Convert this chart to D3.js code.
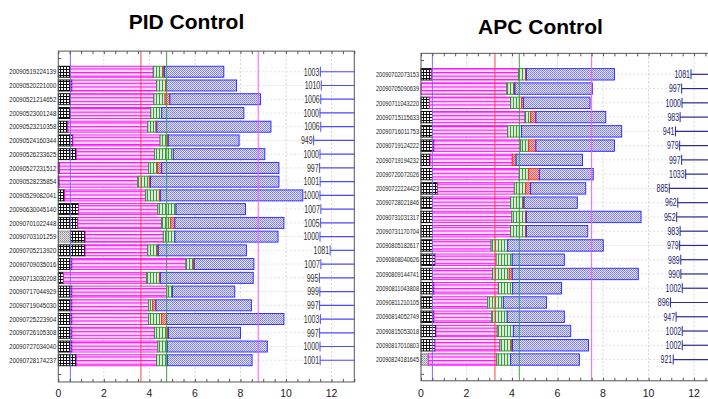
<!DOCTYPE html>
<html>
<head>
<meta charset="utf-8">
<script src="https://cdn.jsdelivr.net/npm/d3@7"></script>
<style>
  body { margin: 0; background: #fff }
  svg { display: block; font-family: "Liberation Sans", Arial, sans-serif }
</style>
</head>
<body>
<svg id="chart" width="708" height="399"></svg>
<script>
// PID panel: each array holds where that segment ends on the x axis
const pidLabels = ['20090519224139', '20090520221000', '20090521214652', '20090523001248', '20090523210358', '20090524160344', '20090526233625', '20090527231512', '20090528235854', '20090529082041', '20090630045140', '20090701022448', '20090703101259', '20090705213920', '20090709035016', '20090713030208', '20090717044929', '20090719045030', '20090725223904', '20090726105308', '20090727034040', '20090728174237']
const pidGray = [0, 0, 0, 0, 0, 0, 0, 0, 0, 0, 0, 0, 0.54, 0, 0, 0, 0, 0, 0, 0, 0, 0]
const pidBlack = [0.54, 0.6, 0.54, 0.54, 0.42, 0.64, 0.79, 0.06, 0.04, 0.28, 0.89, 0.86, 1.18, 1.18, 0.6, 0.23, 0.6, 0.6, 0.6, 0.6, 0.6, 0.79]
const pidMagenta = [4.17, 4.32, 4.2, 4.06, 3.93, 4.47, 4.22, 3.96, 3.49, 3.84, 4.37, 4.54, 4.61, 3.93, 5.61, 3.88, 4.76, 3.96, 3.96, 4.22, 4.37, 4.32]
const pidGreen = [4.61, 4.72, 4.69, 4.54, 4.29, 4.79, 5.05, 4.35, 4.0, 4.44, 5.17, 4.94, 5.12, 4.35, 5.93, 4.44, 5.01, 4.15, 4.54, 4.8, 4.79, 4.8]
const pidRed = [4.66, 4.75, 4.9, 4.54, 4.33, 4.83, 5.05, 4.54, 4.05, 4.48, 5.17, 5.12, 5.12, 4.39, 5.97, 4.48, 5.01, 4.29, 4.76, 4.84, 4.79, 4.8]
const pidBlue = [7.27, 7.83, 8.88, 8.15, 9.34, 7.94, 9.07, 9.69, 9.69, 10.74, 8.22, 9.91, 9.65, 8.26, 8.59, 8.56, 7.75, 8.48, 9.91, 8.0, 9.18, 8.51]
const pidCounts = [1003, 1010, 1006, 1000, 1006, 949, 1000, 997, 1001, 1000, 1007, 1005, 1000, 1081, 1007, 995, 999, 997, 1003, 997, 1000, 1001]
const pidRefs = [0.53, 3.63, 4.76, 8.78]

// APC panel
const apcLabels = ['20090702073153', '20090705090639', '20090711043220', '20090715115633', '20090716011753', '20090719124222', '20090719194232', '20090720072026', '20090722224423', '20090728021846', '20090731031317', '20090731170704', '20090805182617', '20090808040626', '20090809144741', '20090811043808', '20090811210105', '20090814052749', '20090815053018', '20090817010803', '20090824181645']
const apcGray = [0, 0, 0, 0, 0, 0, 0, 0, 0, 0, 0, 0, 0, 0, 0, 0, 0, 0, 0, 0, 0.32]
const apcBlack = [0.47, 0, 0.37, 0.51, 0.51, 0.57, 0.4, 0.51, 0.73, 0.51, 0.51, 0.51, 0.51, 0.62, 0.51, 0.57, 0.51, 0.57, 0.66, 0.62, 0.32]
const apcMagenta = [4.28, 3.77, 3.94, 4.57, 3.81, 4.38, 4.01, 4.32, 4.1, 3.94, 3.99, 3.94, 3.08, 3.3, 3.15, 3.4, 2.93, 3.11, 3.35, 3.47, 3.33]
const apcGreen = [4.6, 4.1, 4.42, 4.82, 4.42, 4.72, 4.01, 4.72, 4.6, 4.5, 4.6, 4.6, 3.81, 4.01, 3.88, 4.03, 3.62, 3.79, 4.06, 3.99, 3.94]
const apcRed = [4.63, 4.13, 4.5, 5.05, 4.42, 5.05, 4.18, 5.2, 4.82, 4.53, 4.63, 4.63, 3.81, 4.01, 4.01, 4.03, 3.62, 3.79, 4.06, 4.02, 3.94]
const apcBlue = [8.5, 7.53, 7.43, 8.12, 8.82, 8.5, 7.1, 7.57, 7.24, 6.87, 9.67, 7.33, 8.01, 6.3, 9.55, 6.18, 5.52, 6.3, 6.58, 7.36, 6.96]
const apcCounts = [1081, 997, 1000, 983, 941, 979, 997, 1033, 885, 962, 952, 983, 979, 989, 990, 1002, 896, 947, 1002, 1002, 921]
const apcRefs = [0.5, 3.25, 4.32, 7.5]

const xTicks = [0, 2, 4, 6, 8, 10, 12]
const segKeys = ['gray', 'black', 'magenta', 'green', 'red', 'blue']
const refColors = ['#6f6fff', '#ff4040', '#3aa03a', '#ff55ff']

const svg = d3.select('#chart')
const defs = svg.append('defs')

function pattern(id, w, h, bg, rects) {
  const p = defs.append('pattern')
    .attr('id', id)
    .attr('patternUnits', 'userSpaceOnUse')
    .attr('width', w).attr('height', h)
  p.append('rect').attr('width', w).attr('height', h).attr('fill', bg)
  rects.forEach(r => p.append('rect')
    .attr('x', r[0]).attr('y', r[1]).attr('width', r[2]).attr('height', r[3]).attr('fill', r[4]))
}
pattern('p-gray', 2, 2, '#e4e4e4', [[0, 0, 1, 1, '#8c8c8c'], [1, 1, 1, 1, '#b0b0b0']])
pattern('p-black', 3, 3, '#ffffff', [[0, 0, 3, 1, '#111'], [0, 0, 1, 3, '#111']])
pattern('p-magenta', 3, 3.6, '#ffe2ff', [[0, 0, 3, 1.2, '#ff10ff'], [0, 1.2, 3, 0.6, '#ff9cff']])
pattern('p-green', 3, 3, '#d8eed8', [[0, 0, 1, 3, '#3c9a3c']])
pattern('p-red', 2, 2, '#ffd2d2', [[0, 0, 1, 1, '#ff4a4a'], [1, 1, 1, 1, '#ff4a4a']])
pattern('p-blue', 2, 2, '#e4e4ff', [[0, 0, 1, 1, '#7a7aff'], [1, 1, 1, 1, '#8a8aff']])

const segStroke = { gray: '#888', black: '#000', magenta: '#ff00ff', green: '#2a8a2a', red: '#ff2020', blue: '#2424ff' }

function drawPanel(cfg) {
  const x = cfg.x, y = cfg.y
  const n = cfg.labels.length
  const g = svg.append('g')
  const left = x(0), right = x(13)
  const top = y(cfg.yMin), bottom = y(cfg.yMax)
  const bh = (y(1) - y(0)) * 0.8

  // title
  svg.append('text')
    .attr('x', cfg.titleX).attr('y', cfg.titleY)
    .attr('text-anchor', 'middle')
    .style('font-size', '21px').style('font-weight', 'bold')
    .text(cfg.title)

  // grid
  g.selectAll('.vgrid').data(xTicks.slice(1)).enter().append('line')
    .attr('x1', d => x(d)).attr('x2', d => x(d))
    .attr('y1', top).attr('y2', bottom)
    .attr('stroke', '#d4d4d4').attr('stroke-dasharray', '2,2')
  g.selectAll('.hgrid').data(d3.range(1, n + 1)).enter().append('line')
    .attr('x1', left).attr('x2', right)
    .attr('y1', d => y(d)).attr('y2', d => y(d))
    .attr('stroke', '#e2e2e2').attr('stroke-dasharray', '2,2')

  // stacked segments
  const rows = cfg.labels.map((lab, i) => {
    let prev = 0
    const segs = []
    segKeys.forEach(k => {
      const end = cfg.series[k][i]
      if (end > prev) segs.push({ k, x0: prev, x1: end })
      prev = Math.max(prev, end)
    })
    return { i, segs }
  })
  g.selectAll('.row').data(rows).enter().append('g')
    .selectAll('rect').data(r => r.segs.map(s => Object.assign({ i: r.i }, s))).enter().append('rect')
    .attr('x', d => x(d.x0)).attr('width', d => x(d.x1) - x(d.x0))
    .attr('y', d => y(d.i + 1) - bh / 2).attr('height', bh)
    .attr('fill', d => 'url(#p-' + d.k + ')')
    .attr('stroke', d => segStroke[d.k]).attr('stroke-width', 0.9)

  // reference lines
  g.selectAll('.ref').data(cfg.refs).enter().append('line')
    .attr('x1', d => x(d)).attr('x2', d => x(d))
    .attr('y1', top).attr('y2', bottom)
    .attr('stroke', (d, i) => refColors[i]).attr('stroke-width', 1)

  // counts with their little lines on the right
  const c = cfg.countX
  g.selectAll('.cline').data(cfg.counts).enter().append('line')
    .attr('x1', d => c(d)).attr('x2', cfg.lineEnd)
    .attr('y1', (d, i) => y(i + 1)).attr('y2', (d, i) => y(i + 1))
    .attr('stroke', cfg.lineColor).attr('stroke-width', 1.2)
  g.selectAll('.cbar').data(cfg.counts).enter().append('line')
    .attr('x1', d => c(d)).attr('x2', d => c(d))
    .attr('y1', (d, i) => y(i + 1) - 5).attr('y2', (d, i) => y(i + 1) + 5)
    .attr('stroke', cfg.lineColor).attr('stroke-width', 1)
  g.selectAll('.ctext').data(cfg.counts).enter().append('text')
    .attr('x', d => c(d) - 1).attr('y', (d, i) => y(i + 1) + 3.8)
    .attr('text-anchor', 'end')
    .attr('textLength', d => String(d).length * 3.9).attr('lengthAdjust', 'spacingAndGlyphs')
    .style('font-size', '10.5px').attr('fill', cfg.countColor)
    .text(d => d)

  // row labels
  g.selectAll('.lab').data(cfg.labels).enter().append('text')
    .attr('x', left - 2).attr('y', (d, i) => y(i + 1) + 2.7)
    .attr('text-anchor', 'end')
    .attr('textLength', cfg.labelW).attr('lengthAdjust', 'spacingAndGlyphs')
    .style('font-size', '7.5px').attr('fill', '#222')
    .text(d => d)

  // frame and ticks
  g.append('rect')
    .attr('x', left).attr('y', top).attr('width', right - left).attr('height', bottom - top)
    .attr('fill', 'none').attr('stroke', '#555').attr('stroke-width', 1)
  const minor = d3.range(0, 13.01, 0.5)
  g.append('g').attr('transform', 'translate(0,' + top + ')')
    .call(d3.axisTop(x).tickValues(minor).tickSize(-3).tickFormat(''))
  g.append('g').attr('transform', 'translate(0,' + bottom + ')')
    .call(d3.axisBottom(x).tickValues(minor).tickSize(-3).tickFormat(''))
  g.append('g').attr('transform', 'translate(' + left + ',0)')
    .call(d3.axisLeft(y).tickValues([0, cfg.yEnd]).tickSize(-3).tickFormat(''))
  g.selectAll('.domain').remove()
  g.selectAll('.tick line').attr('stroke', '#555')

  g.selectAll('.xlab').data(xTicks).enter().append('text')
    .attr('x', d => x(d)).attr('y', 397)
    .attr('text-anchor', 'middle')
    .style('font-size', '10.5px').attr('fill', '#222')
    .text(d => d)
}

drawPanel({
  title: 'PID Control', titleX: 186.5, titleY: 29,
  labels: pidLabels,
  series: { gray: pidGray, black: pidBlack, magenta: pidMagenta, green: pidGreen, red: pidRed, blue: pidBlue },
  counts: pidCounts, refs: pidRefs,
  x: d3.scaleLinear().domain([0, 13]).range([58.3, 354.3]),
  y: d3.scaleLinear().domain([0, 23]).range([58, 374]),
  yMin: -0.5, yMax: 23.58, yEnd: 23,
  countX: d3.scaleLinear().domain([900, 1100]).range([307.5, 332.5]),
  lineEnd: 354.3, lineColor: '#4a4aff', countColor: '#333',
  labelW: 47
})

drawPanel({
  title: 'APC Control', titleX: 540.5, titleY: 34,
  labels: apcLabels,
  series: { gray: apcGray, black: apcBlack, magenta: apcMagenta, green: apcGreen, red: apcRed, blue: apcBlue },
  counts: apcCounts, refs: apcRefs,
  x: d3.scaleLinear().domain([0, 13]).range([421, 716.8]),
  y: d3.scaleLinear().domain([0, 22]).range([60.05, 373.8]),
  yMin: -0.47, yMax: 22.49, yEnd: 22,
  countX: d3.scaleLinear().domain([900, 1100]).range([670.9, 693.1]),
  lineEnd: 708, lineColor: '#2a2a9a', countColor: '#1e1e6e',
  labelW: 43
})
</script>
</body>
</html>
